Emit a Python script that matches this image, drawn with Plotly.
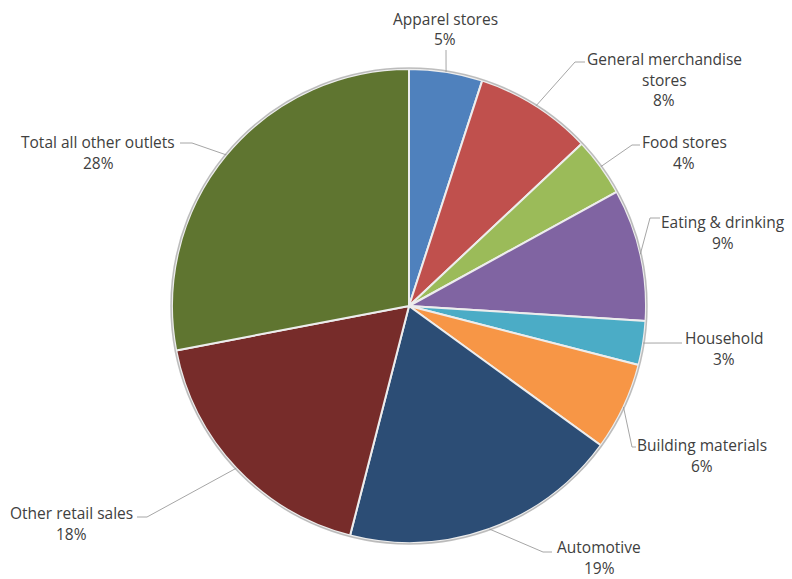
import math
import plotly.graph_objects as go

# Share of sales by outlet type (percent), clockwise from 12 o'clock
categories = [
    "Apparel stores",
    "General merchandise stores",
    "Food stores",
    "Eating & drinking",
    "Household",
    "Building materials",
    "Automotive",
    "Other retail sales",
    "Total all other outlets",
]
shares = [5, 8, 4, 9, 3, 6, 19, 18, 28]

# Label lines as they are wrapped on the chart
label_lines = [
    ["Apparel stores"],
    ["General merchandise", "stores"],
    ["Food stores"],
    ["Eating & drinking"],
    ["Household"],
    ["Building materials"],
    ["Automotive"],
    ["Other retail sales"],
    ["Total all other outlets"],
]

colors = [
    "#4F81BD", "#C0504D", "#9BBB59", "#8064A2", "#4BACC6",
    "#F79646", "#2C4D75", "#772C2A", "#5F7530",
]

W, H = 792, 579
CX, CY, R = 409, 306, 237  # pie centre and radius, pixels

# Label placement (pixels): text centre x, first line y, leader elbow, leader end
label_pos = [
    dict(x=445, y=19, elbow=(446, 50), end=(446, 50)),
    dict(x=664, y=59, elbow=(575, 62), end=(585, 62)),
    dict(x=684, y=142, elbow=(632, 145), end=(640, 145)),
    dict(x=723, y=222, elbow=(650, 218), end=(660, 218)),
    dict(x=724, y=338, elbow=(665, 343), end=(682, 343)),
    dict(x=702, y=445, elbow=(632, 447), end=(636, 447)),
    dict(x=599, y=547, elbow=(543, 552), end=(552, 552)),
    dict(x=71, y=513, elbow=(147, 517), end=(137, 517)),
    dict(x=98, y=142, elbow=(192, 143), end=(180, 143)),
]
LINE_GAP = 20.5


def px(x):
    return x / W


def py(y):
    return 1 - y / H


fig = go.Figure()
fig.add_trace(go.Pie(
    labels=categories,
    values=shares,
    sort=False,
    direction="clockwise",
    rotation=0,
    marker=dict(colors=colors, line=dict(color="#EDEDED", width=2)),
    textinfo="none",
    hoverinfo="label+percent",
    domain=dict(x=[px(CX - R), px(CX + R)], y=[py(CY + R), py(CY - R)]),
    showlegend=False,
))

shapes = []
annotations = []
total = sum(shares)
cum = 0.0
for name, v, lines, pos in zip(categories, shares, label_lines, label_pos):
    mid = (cum + v / 2) / total * 2 * math.pi
    cum += v
    ax = CX + R * math.sin(mid)
    ay = CY - R * math.cos(mid)
    ex, ey = pos["elbow"]
    fx, fy = pos["end"]
    path = f"M {px(ax)} {py(ay)} L {px(ex)} {py(ey)} L {px(fx)} {py(fy)}"
    shapes.append(dict(type="path", path=path, xref="paper", yref="paper",
                       line=dict(color="#A6A6A6", width=1)))
    texts = lines + [f"{round(v / total * 100)}%"]
    for i, t in enumerate(texts):
        annotations.append(dict(
            text=t, x=px(pos["x"]), y=py(pos["y"] + i * LINE_GAP),
            xref="paper", yref="paper", xanchor="center", yanchor="middle",
            showarrow=False, borderpad=0,
            font=dict(family="Open Sans", size=15.5, color="#404040"),
        ))

# soft grey rim around the pie
shapes.append(dict(type="circle", xref="paper", yref="paper",
                   x0=px(CX - R - 1), x1=px(CX + R + 1),
                   y0=py(CY + R + 1), y1=py(CY - R - 1),
                   line=dict(color="rgba(150,150,150,0.6)", width=1.5),
                   layer="above"))

fig.update_layout(
    width=W, height=H,
    margin=dict(l=0, r=0, t=0, b=0),
    paper_bgcolor="white",
    plot_bgcolor="white",
    shapes=shapes,
    annotations=annotations,
)

fig.write_html("out.html")
